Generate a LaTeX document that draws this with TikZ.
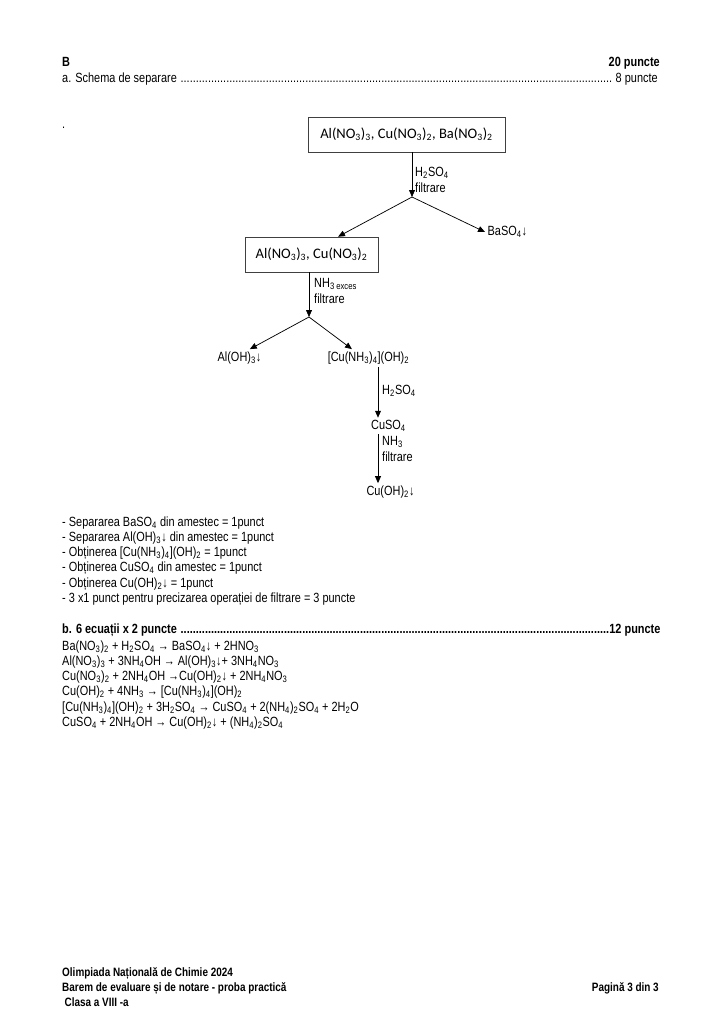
\documentclass[tikz,border=0pt]{standalone}
\usepackage{fontspec}
\setmainfont{Liberation Sans}[FakeStretch=0.82]
\newfontfamily\boxfont{Carlito}
\usetikzlibrary{arrows.meta}
\newcommand{\sbs}[1]{\textsubscript{#1}}
\newcommand{\dotlead}{\leaders\hbox{.}\hfill}
\tikzset{
  txt/.style   ={font=\fontsize{11}{12.6}\selectfont,inner sep=0pt,anchor=base west,align=left},
  hdr/.style   ={txt,font=\fontsize{11}{12.6}\selectfont\bfseries},
  foot/.style  ={txt,font=\fontsize{10}{12.3}\selectfont\bfseries},
  box/.style   ={draw=black!75,line width=0.5pt,font=\boxfont\fontsize{12}{14}\selectfont,
                 minimum height=10.15mm,inner sep=2pt},
  lbl/.style   ={font=\fontsize{11}{13}\selectfont,inner sep=0pt,anchor=west,align=left},
  prod/.style  ={font=\fontsize{11}{13}\selectfont,inner sep=2pt},
  arr/.style   ={-{Triangle[length=2mm,width=1.7mm]},line width=0.6pt},
}
\begin{document}
\begin{tikzpicture}[x=0.29mm, y=-0.29mm]
\useasboundingbox (0,0) rectangle (724,1024);

% page header
\node[hdr] (secB) at (62,66.5) {B};
\node[hdr,anchor=base east] (total) at (660,66.5) {20 puncte};
\node[txt] (parta) at (62,82.5) {\hbox to 172.6mm{a. Schema de separare \dotlead\ 8 puncte}};
\node[txt] (dot) at (62,128) {.};

% separation scheme
\node[box,minimum width=57.1mm] (mix) at (406.5,134.5)
  {Al(NO\sbs3)\sbs3, Cu(NO\sbs3)\sbs2, Ba(NO\sbs3)\sbs2};
\node[box,minimum width=38.6mm] (sol) at (311.5,254.5)
  {Al(NO\sbs3)\sbs3, Cu(NO\sbs3)\sbs2};

\coordinate (f1) at (412,197);
\draw[arr] (mix.south -| f1) -- (f1);
\node[lbl] (r1) at (415,180) {H\sbs2SO\sbs4\\filtrare};
\node[prod,anchor=west] (baso4) at (485,232) {BaSO\sbs4↓};
\draw[arr] (f1) -- ([xshift=7.7mm]sol.north);
\draw[arr] (f1) -- (baso4.west);

\coordinate (f2) at (309,317);
\draw[arr] (sol.south -| f2) -- (f2);
\node[lbl] (r2) at (314,291) {NH\sbs{3 exces}\\filtrare};
\node[prod] (aloh) at (239.5,358) {Al(OH)\sbs3↓};
\node[prod] (cuam) at (368.5,358) {[Cu(NH\sbs3)\sbs4](OH)\sbs2};
\draw[arr] (f2) -- ([xshift=3mm]aloh.north);
\draw[arr] (f2) -- ([xshift=-4.8mm]cuam.north);

\coordinate (ax) at (378,0);
\node[prod] (cuso4) at (388.5,426) {CuSO\sbs4};
\node[prod] (cuoh) at (390.5,492) {Cu(OH)\sbs2↓};
\draw[arr] (cuam.south -| ax) -- (cuso4.north -| ax);
\node[lbl] (r3) at (382,391) {H\sbs2SO\sbs4};
\draw[arr] (cuso4.south -| ax) -- (cuoh.north -| ax);
\node[lbl] (r4) at (382,449) {NH\sbs3\\filtrare};

% scoring of part a (node base = last line)
\node[txt] (notes) at (62,602.5)
  {- Separarea BaSO\sbs4 din amestec = 1punct\\
   - Separarea Al(OH)\sbs3↓ din amestec = 1punct\\
   - Obținerea [Cu(NH\sbs3)\sbs4](OH)\sbs2 = 1punct\\
   - Obținerea CuSO\sbs4 din amestec = 1punct\\
   - Obținerea Cu(OH)\sbs2↓ = 1punct\\
   - 3 x1 punct pentru precizarea operației de filtrare = 3 puncte};

% part b
\node[hdr] (partb) at (62,633.5) {\hbox to 173.4mm{b. 6 ecuații x 2 puncte \dotlead12 puncte}};
\node[txt] (eqs) at (62,726.5)
  {Ba(NO\sbs3)\sbs2 + H\sbs2SO\sbs4 → BaSO\sbs4↓ + 2HNO\sbs3\\
   Al(NO\sbs3)\sbs3 + 3NH\sbs4OH → Al(OH)\sbs3↓+ 3NH\sbs4NO\sbs3\\
   Cu(NO\sbs3)\sbs2 + 2NH\sbs4OH →Cu(OH)\sbs2↓ + 2NH\sbs4NO\sbs3\\
   Cu(OH)\sbs2 + 4NH\sbs3 → [Cu(NH\sbs3)\sbs4](OH)\sbs2\\
   {}[Cu(NH\sbs3)\sbs4](OH)\sbs2 + 3H\sbs2SO\sbs4 → CuSO\sbs4 + 2(NH\sbs4)\sbs2SO\sbs4 + 2H\sbs2O\\
   CuSO\sbs4 + 2NH\sbs4OH → Cu(OH)\sbs2↓ + (NH\sbs4)\sbs2SO\sbs4};

% page footer
\node[foot] (footl) at (62,1006)
  {Olimpiada Națională de Chimie 2024\\
   Barem de evaluare și de notare - proba practică\\
   \hspace*{2pt}Clasa a VIII -a};
\node[foot,anchor=base east] (footr) at (659,991) {Pagină 3 din 3};
\end{tikzpicture}
\end{document}
